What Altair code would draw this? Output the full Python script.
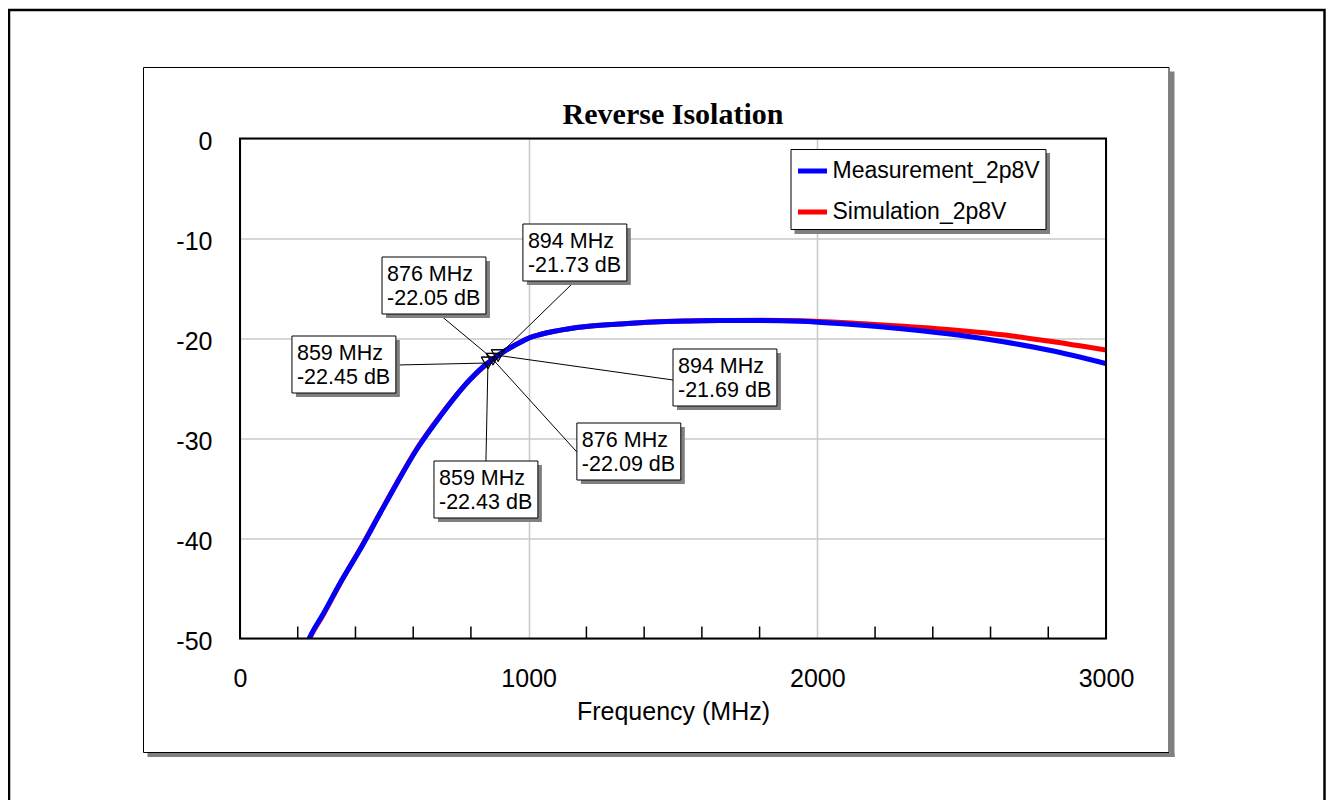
import altair as alt
import pandas as pd

# ---------------- data ----------------
freq = [225, 243, 289, 346, 422, 485, 543, 612, 693, 797, 859, 876, 894, 920, 950, 980,
        1005, 1040, 1085, 1140, 1200, 1316, 1431, 1550, 1663, 1800, 1940, 2100, 2300,
        2500, 2650, 2800, 3000]
meas = [-51.0, -49.8, -47.5, -44.5, -40.8, -37.5, -34.5, -31.1, -27.8, -24.1, -22.43,
        -22.09, -21.69, -21.2, -20.7, -20.25, -19.9, -19.6, -19.3, -19.02, -18.8, -18.55,
        -18.35, -18.25, -18.2, -18.2, -18.27, -18.55, -19.05, -19.7, -20.35, -21.15, -22.5]
sim = [-51.1, -49.9, -47.6, -44.55, -40.75, -37.45, -34.45, -31.05, -27.75, -24.1, -22.45,
       -22.05, -21.73, -21.2, -20.7, -20.25, -19.9, -19.6, -19.3, -19.02, -18.8, -18.55,
       -18.35, -18.25, -18.2, -18.18, -18.23, -18.42, -18.78, -19.22, -19.65, -20.25, -21.15]

series_names = ["Measurement_2p8V", "Simulation_2p8V"]
series_colors = ["#0000ff", "#ff0000"]

x_ticks = [0, 1000, 2000, 3000]
y_ticks = [0, -10, -20, -30, -40, -50]
minor_ticks = [200, 400, 600, 800, 1200, 1400, 1600, 1800, 2200, 2400, 2600, 2800]

chart_title = "Reverse Isolation"
x_title = "Frequency (MHz)"

# markers
mk_freq = [876, 894, 859, 894, 876, 859]
mk_db = [-22.05, -21.73, -22.45, -21.69, -22.09, -22.43]

# annotation placement (data units): box top-left corner and leader-line end
box_left = [492, 980, 180, 1500, 1167, 672]
box_top = [-11.85, -8.55, -19.75, -21.05, -28.45, -32.25]
lead_x = [689, 1150, 544, 1500, 1167, 852]
lead_y = [-17.55, -14.55, -22.65, -24.15, -31.35, -32.25]
BOX_W = 360
BOX_H = 5.7

FONT = "Liberation Sans"

df_meas = pd.DataFrame({"f": freq, "v": meas, "series": series_names[0]})
df_sim = pd.DataFrame({"f": freq, "v": sim, "series": series_names[1]})
df_ann = pd.DataFrame({
    "f": mk_freq, "v": mk_db,
    "bx": box_left, "by": box_top,
    "bx2": [b + BOX_W for b in box_left], "by2": [b - BOX_H for b in box_top],
    "lx": lead_x, "ly": lead_y,
    "label": [f"{a} MHz\n{b:.2f} dB" for a, b in zip(mk_freq, mk_db)],
})
df_minor = pd.DataFrame({"f": minor_ticks})
one = alt.Data(values=[{"k": 1}])

xscale = alt.Scale(domain=[0, 3000], nice=False, zero=False)
yscale = alt.Scale(domain=[-50, 0], nice=False, zero=False)

x_axis = alt.Axis(values=x_ticks, title=x_title, grid=True, gridColor="#c8c8c8",
                  gridWidth=1.5, ticks=False, tickSize=0, domain=False, labelFontSize=25,
                  labelFont=FONT, labelColor="black", labelPadding=28, labelFlush=False,
                  labelOverlap=False, titleFontSize=25, titleFont=FONT,
                  titleFontWeight="normal", titleColor="black", titlePadding=8,
                  labelExpr="'' + datum.value")
y_axis = alt.Axis(values=y_ticks, title=None, grid=True, gridColor="#c8c8c8", gridWidth=1.5,
                  ticks=False, tickSize=0, domain=False, labelFontSize=25, labelFont=FONT,
                  labelColor="black", labelPadding=28, labelOffset=3, labelFlush=False,
                  labelOverlap=False, labelExpr="'' + datum.value")


def X(field):
    return alt.X(f"{field}:Q", scale=xscale, axis=x_axis)


def Y(field):
    return alt.Y(f"{field}:Q", scale=yscale, axis=y_axis)


color = alt.Color("series:N",
                  scale=alt.Scale(domain=series_names, range=series_colors),
                  legend=alt.Legend(title=None, orient="none", legendX=550.5, legendY=10.5,
                                    symbolType="stroke", symbolSize=841, symbolStrokeWidth=5,
                                    labelFontSize=23, labelFont=FONT, labelColor="black",
                                    labelOffset=3, padding=5, rowPadding=12,
                                    strokeColor="black", fillColor="white", cornerRadius=0,
                                    labelLimit=400))

# decorations (pixel positions relative to plot area)
outer = alt.Chart(one).mark_rect(fill=None, stroke="black", strokeWidth=2.5, clip=False).encode(
    x=alt.value(-231), x2=alt.value(1084.5), y=alt.value(-128.5), y2=alt.value(800))
panel = alt.Chart(one).mark_rect(fill=None, stroke="black", strokeWidth=1).encode(
    x=alt.value(-96.5), x2=alt.value(929), y=alt.value(-71), y2=alt.value(614))
sh_r = alt.Chart(one).mark_rect(fill="#808080").encode(
    x=alt.value(929.5), x2=alt.value(934.5), y=alt.value(-67), y2=alt.value(618.5))
sh_b = alt.Chart(one).mark_rect(fill="#808080").encode(
    x=alt.value(-92.5), x2=alt.value(934.5), y=alt.value(614.5), y2=alt.value(618.5))

title_mark = alt.Chart(one).mark_text(font="Liberation Serif", fontSize=30, fontWeight="bold",
                                      color="black", align="center",
                                      baseline="alphabetic").encode(
    x=alt.value(433), y=alt.value(-14.5), text=alt.value(chart_title))

minor = alt.Chart(df_minor).mark_rule(color="black", strokeWidth=1.5).encode(
    x=X("f"), y=alt.value(500), y2=alt.value(488))

line_sim = alt.Chart(df_sim).mark_line(strokeWidth=5, clip=True, interpolate="monotone").encode(
    x=X("f"), y=Y("v"), color=color)
line_meas = alt.Chart(df_meas).mark_line(strokeWidth=5, clip=True, interpolate="monotone").encode(
    x=X("f"), y=Y("v"), color=color)

frame = alt.Chart(one).mark_rect(fill=None, stroke="black", strokeWidth=2).encode(
    x=alt.value(0), x2=alt.value(866), y=alt.value(0), y2=alt.value(500))

leg_sh = alt.Chart(one).mark_rect(fill="#808080").encode(
    x=alt.value(554.5), x2=alt.value(810), y=alt.value(14.5), y2=alt.value(95.5))

leaders = alt.Chart(df_ann).mark_rule(color="black", strokeWidth=1).encode(
    x=X("f"), y=Y("v"), x2="lx:Q", y2="ly:Q")
box_sh = alt.Chart(df_ann).mark_rect(fill="#808080", xOffset=4, x2Offset=4, yOffset=4,
                                     y2Offset=4).encode(
    x=X("bx"), y=Y("by"), x2="bx2:Q", y2="by2:Q")
boxes = alt.Chart(df_ann).mark_rect(fill="white", stroke="black", strokeWidth=1).encode(
    x=X("bx"), y=Y("by"), x2="bx2:Q", y2="by2:Q")
texts = alt.Chart(df_ann).mark_text(align="left", baseline="alphabetic", dx=5, dy=24,
                                    lineBreak="\n", lineHeight=23.5, font=FONT, fontSize=21.5,
                                    color="black").encode(
    x=X("bx"), y=Y("by"), text="label:N")
markers = alt.Chart(df_ann).mark_point(shape="triangle-down", filled=False, stroke="black",
                                       strokeWidth=1, size=180, opacity=1).encode(
    x=X("f"), y=Y("v"))

chart = alt.layer(outer, panel, sh_r, sh_b, title_mark, minor, line_sim, line_meas, frame,
                  leg_sh, leaders, box_sh, boxes, texts, markers).properties(
    width=866, height=500,
    autosize=alt.AutoSizeParams(type="none"),
    padding={"left": 232, "top": 130.5, "right": 220, "bottom": 161.5},
).configure_view(stroke=None).configure(background="white")

chart.save("out.html", embed_options={"renderer": "svg", "actions": False})
